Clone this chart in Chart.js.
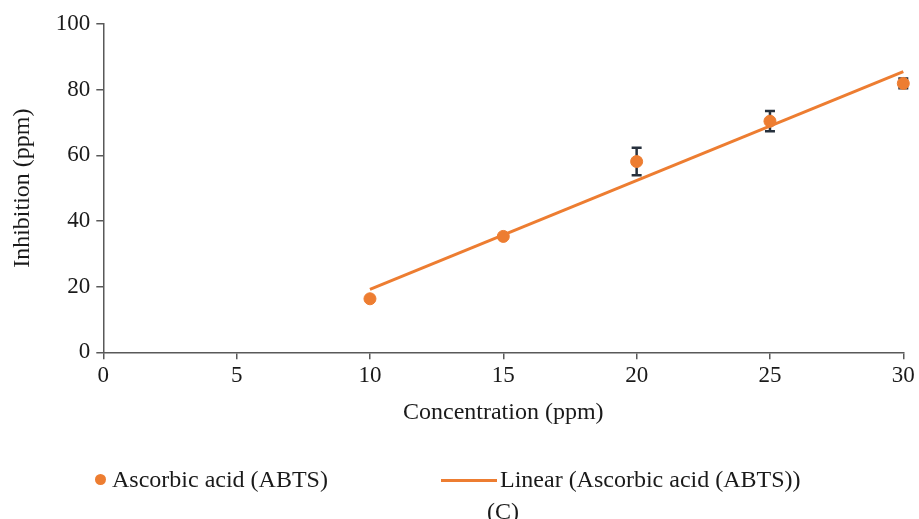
<!DOCTYPE html>
<html>
<head>
<meta charset="utf-8">
<script src="https://cdn.jsdelivr.net/npm/chart.js@4.4.1/dist/chart.umd.min.js"></script>
<style>
  html, body { margin: 0; padding: 0; background: #fff; }
  #wrap { position: relative; width: 919px; height: 519px; overflow: hidden; }
  #chart { position: absolute; left: 0; top: 0; }
  .txt { position: absolute; font-family: "Liberation Serif", "DejaVu Serif", serif; font-size: 24px; color: #1a1a1a; line-height: 28px; white-space: nowrap; }
  .dot { position: absolute; width: 11px; height: 11px; border-radius: 50%; background: #ed7d31; }
  .dash { position: absolute; height: 3px; background: #ed7d31; }
</style>
</head>
<body>
<div id="wrap">
  <canvas id="chart" width="919" height="519"></canvas>
  <span class="dot" style="left:95px; top:474px;"></span>
  <span class="txt" style="left:112px; top:465px;">Ascorbic acid (ABTS)</span>
  <span class="dash" style="left:441px; top:479px; width:56px;"></span>
  <span class="txt" style="left:500px; top:465px;">Linear (Ascorbic acid (ABTS))</span>
  <span class="txt" style="left:487px; top:497px;">(C)</span>
</div>
<script>
// values
const concentration = [10, 15, 20, 25, 30];
const inhibition = [16.3, 35.3, 58.1, 70.4, 81.9];
const inhibitionError = [0, 0, 4.2, 3.1, 1.5];
const trendX = [10, 30];
const trendY = [19.2, 85.5];
const xTickValues = [0, 5, 10, 15, 20, 25, 30];
const yTickValues = [0, 20, 40, 60, 80, 100];

const orange = "#ed7d31";
const axisColor = "#595959";
const errorColor = "#27313d";
const serif = "'Liberation Serif', 'DejaVu Serif', serif";

const errorBarPlugin = {
  id: "errorBars",
  beforeDatasetsDraw(chart) {
    const { ctx, scales } = chart;
    ctx.save();
    ctx.strokeStyle = errorColor;
    ctx.lineWidth = 2.5;
    concentration.forEach((x, i) => {
      const err = inhibitionError[i];
      if (!err) return;
      const px = scales.x.getPixelForValue(x);
      const top = scales.y.getPixelForValue(inhibition[i] + err);
      const bottom = scales.y.getPixelForValue(inhibition[i] - err);
      ctx.beginPath();
      ctx.moveTo(px, top);
      ctx.lineTo(px, bottom);
      ctx.moveTo(px - 5, top);
      ctx.lineTo(px + 5, top);
      ctx.moveTo(px - 5, bottom);
      ctx.lineTo(px + 5, bottom);
      ctx.stroke();
    });
    ctx.restore();
  }
};

new Chart(document.getElementById("chart"), {
  type: "scatter",
  data: {
    datasets: [
      {
        label: "Ascorbic acid (ABTS)",
        data: concentration.map((x, i) => ({ x, y: inhibition[i] })),
        backgroundColor: orange,
        borderColor: orange,
        pointRadius: 6,
        clip: false
      },
      {
        label: "Linear (Ascorbic acid (ABTS))",
        type: "line",
        data: trendX.map((x, i) => ({ x, y: trendY[i] })),
        borderColor: orange,
        borderWidth: 3,
        pointRadius: 0,
        fill: false,
        clip: false
      }
    ]
  },
  plugins: [errorBarPlugin],
  options: {
    responsive: false,
    animation: false,
    layout: { padding: { top: 24, right: 15.7, bottom: 92.2, left: 0 } },
    plugins: {
      legend: { display: false },
      tooltip: { enabled: false }
    },
    scales: {
      x: {
        type: "linear",
        min: 0,
        max: 30,
        afterBuildTicks: (s) => { s.ticks = xTickValues.map((v) => ({ value: v })); },
        afterFit: (s) => { s.height = 74.5; },
        border: { display: true, color: axisColor, width: 1.5 },
        grid: { drawOnChartArea: false, drawTicks: true, tickLength: 7, color: axisColor, lineWidth: 1.5 },
        ticks: { color: "#1a1a1a", padding: 3, maxRotation: 0, font: { family: serif, size: 23 } },
        title: {
          display: true,
          text: "Concentration (ppm)",
          color: "#1a1a1a",
          padding: 0,
          font: { family: serif, size: 24, lineHeight: 1.2 }
        }
      },
      y: {
        type: "linear",
        min: 0,
        max: 100,
        afterBuildTicks: (s) => { s.ticks = yTickValues.map((v) => ({ value: v })); },
        afterFit: (s) => { s.width = 103.3; },
        border: { display: true, color: axisColor, width: 1.5 },
        grid: { drawOnChartArea: false, drawTicks: true, tickLength: 7, color: axisColor, lineWidth: 1.5 },
        ticks: { color: "#1a1a1a", padding: 6, font: { family: serif, size: 23 } },
        title: {
          display: true,
          text: "Inhibition (ppm)",
          color: "#1a1a1a",
          padding: { top: 8, bottom: 0 },
          font: { family: serif, size: 24, lineHeight: 1.2 }
        }
      }
    }
  }
});
</script>
</body>
</html>
